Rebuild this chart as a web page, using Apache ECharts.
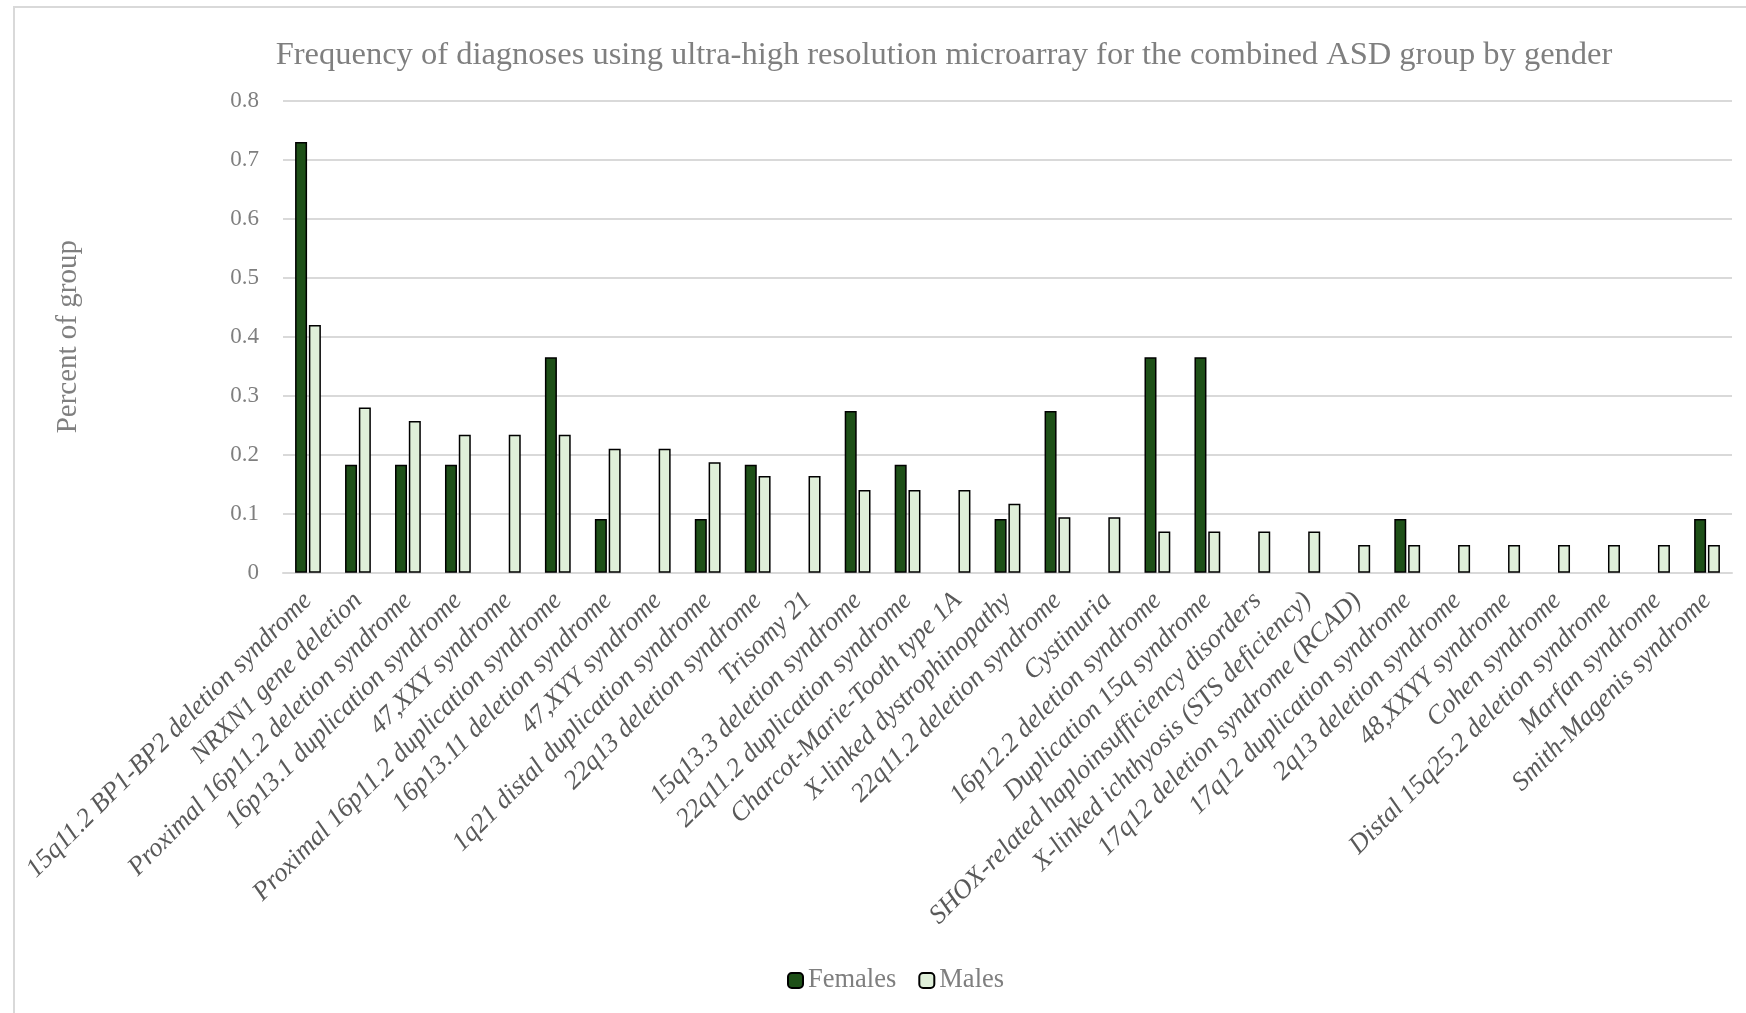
<!DOCTYPE html>
<html>
<head>
<meta charset="utf-8">
<script src="https://cdn.jsdelivr.net/npm/echarts@6/dist/echarts.min.js"></script>
<style>
html,body{margin:0;padding:0;background:#fff;}
#chart{width:1746px;height:1013px;}
</style>
</head>
<body>
<div id="chart"></div>
<script>
const categories = [
  "15q11.2 BP1-BP2 deletion syndrome",
  "NRXN1 gene deletion",
  "Proximal 16p11.2 deletion syndrome",
  "16p13.1 duplication syndrome",
  "47,XXY syndrome",
  "Proximal 16p11.2 duplication syndrome",
  "16p13.11 deletion syndrome",
  "47,XYY syndrome",
  "1q21 distal duplication syndrome",
  "22q13 deletion syndrome",
  "Trisomy 21",
  "15q13.3 deletion syndrome",
  "22q11.2 duplication syndrome",
  "Charcot-Marie-Tooth type 1A",
  "X-linked dystrophinopathy",
  "22q11.2 deletion syndrome",
  "Cystinuria",
  "16p12.2 deletion syndrome",
  "Duplication 15q syndrome",
  "SHOX-related haploinsufficiency disorders",
  "X-linked ichthyosis (STS deficiency)",
  "17q12 deletion syndrome (RCAD)",
  "17q12 duplication syndrome",
  "2q13 deletion syndrome",
  "48,XXYY syndrome",
  "Cohen syndrome",
  "Distal 15q25.2 deletion syndrome",
  "Marfan syndrome",
  "Smith-Magenis syndrome"
];
// null = no bar (blank cell in the source)
const females = [0.73, 0.183, 0.183, 0.183, null, 0.365, 0.091, null, 0.091, 0.183, null, 0.274, 0.183, null, 0.091, 0.274, null, 0.365, 0.365, null, null, null, 0.091, null, null, null, null, null, 0.091];
const males = [0.42, 0.28, 0.257, 0.234, 0.234, 0.234, 0.21, 0.21, 0.187, 0.164, 0.164, 0.14, 0.14, 0.14, 0.117, 0.094, 0.094, 0.07, 0.07, 0.07, 0.07, 0.047, 0.047, 0.047, 0.047, 0.047, 0.047, 0.047, 0.047];
const seriesNames = ["Females", "Males"];
const titleText = "Frequency of diagnoses using ultra-high resolution microarray for the combined ASD group by gender";
const yAxisName = "Percent of group";

const FONT = "'Palatino Linotype','Book Antiqua',Palatino,'Liberation Serif',serif";
const chart = echarts.init(document.getElementById('chart'));
chart.setOption({
  backgroundColor: '#ffffff',
  animation: false,
  graphic: [{
    type: 'rect', silent: true,
    shape: { x: 14, y: 7, width: 1760, height: 1040 },
    style: { fill: 'none', stroke: '#d9d9d9', lineWidth: 2 }
  }],
  title: {
    text: titleText,
    left: 939, textAlign: 'center', top: 34,
    textStyle: { fontFamily: FONT, fontSize: 32.5, fontWeight: 'normal', color: '#7f7f7f' }
  },
  legend: {
    data: seriesNames,
    left: 782, top: 962,
    itemWidth: 15, itemHeight: 15, itemGap: 22,
    textStyle: { fontFamily: FONT, fontSize: 26.5, color: '#7f7f7f' }
  },
  grid: { left: 283, right: 14, top: 100.7, bottom: 440.3, containLabel: false },
  xAxis: {
    type: 'category',
    data: categories,
    axisLine: { lineStyle: { color: '#d9d9d9', width: 2 } },
    axisTick: { show: false },
    axisLabel: {
      interval: 0, rotate: 45, margin: 24,
      fontFamily: FONT, fontStyle: 'italic', fontSize: 26.5, color: '#595959'
    }
  },
  yAxis: {
    type: 'value', min: 0, max: 0.8, interval: 0.1,
    name: yAxisName, nameLocation: 'middle', nameRotate: 90, nameGap: 200,
    nameTextStyle: { fontFamily: FONT, fontSize: 29, color: '#7f7f7f' },
    axisLine: { show: false }, axisTick: { show: false },
    axisLabel: { margin: 24, fontFamily: FONT, fontSize: 23, color: '#7f7f7f' },
    splitLine: { lineStyle: { color: '#d9d9d9', width: 2 } }
  },
  series: [
    { name: seriesNames[0], type: 'bar', data: females, barWidth: 12, barGap: '15%',
      itemStyle: { color: '#1e5018', borderColor: '#000', borderWidth: 1.5 } },
    { name: seriesNames[1], type: 'bar', data: males, barWidth: 12, barGap: '15%',
      itemStyle: { color: '#dfefd9', borderColor: '#000', borderWidth: 1.5 } }
  ]
});
</script>
</body>
</html>
